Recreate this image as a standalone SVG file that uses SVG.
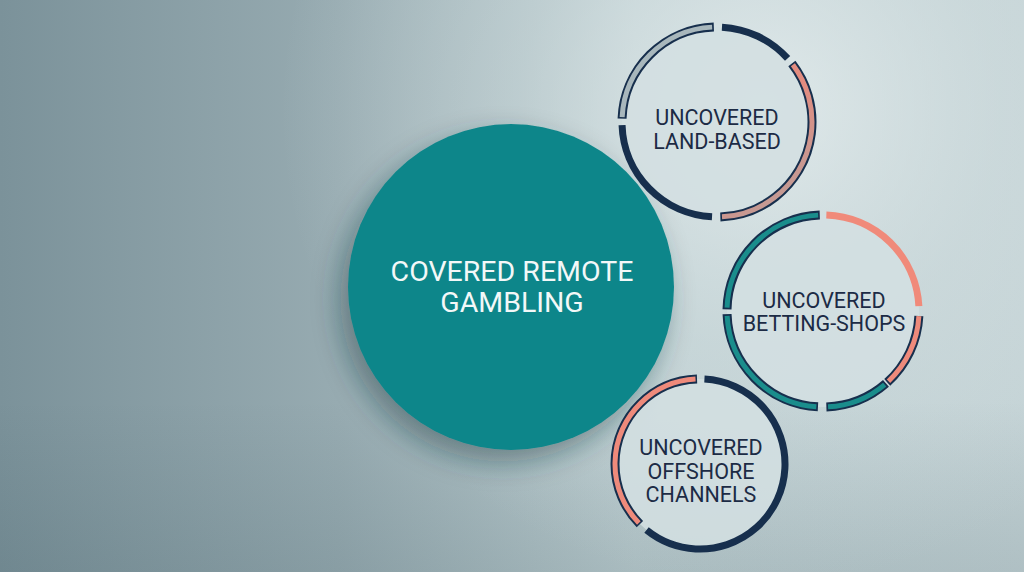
<svg xmlns="http://www.w3.org/2000/svg" width="1024" height="572" viewBox="0 0 1024 572">
  <defs>
    <linearGradient id="bgH" x1="0" y1="0" x2="1" y2="0">
      <stop offset="0" stop-color="#7b929a"/>
      <stop offset="0.33" stop-color="#97abb1"/>
      <stop offset="0.62" stop-color="#bccdd0"/>
      <stop offset="1" stop-color="#c3d2d5"/>
    </linearGradient>
    <radialGradient id="glow" cx="760" cy="110" r="480" gradientUnits="userSpaceOnUse">
      <stop offset="0" stop-color="#e6eeef" stop-opacity="0.85"/>
      <stop offset="0.5" stop-color="#dae5e6" stop-opacity="0.35"/>
      <stop offset="1" stop-color="#dae5e6" stop-opacity="0"/>
    </radialGradient>
    <linearGradient id="bgV" x1="0" y1="0" x2="0" y2="1">
      <stop offset="0" stop-color="#1e3a44" stop-opacity="0"/>
      <stop offset="0.7" stop-color="#1e3a44" stop-opacity="0"/>
      <stop offset="1" stop-color="#1e3a44" stop-opacity="0.12"/>
    </linearGradient>
    <linearGradient id="salmonFade" x1="0" y1="30" x2="0" y2="222" gradientUnits="userSpaceOnUse">
      <stop offset="0" stop-color="#ea8a7c"/>
      <stop offset="0.6" stop-color="#e28c80"/>
      <stop offset="1" stop-color="#c39a94"/>
    </linearGradient>
    <filter id="shadow" x="-30%" y="-30%" width="160%" height="160%">
      <feDropShadow dx="-8" dy="12" stdDeviation="14" flood-color="#1d3740" flood-opacity="0.45"/>
    </filter>
  </defs>
  <style>
    .ring { fill: #d3dfe1; fill-opacity: 0.88; stroke: none; }
    .nv { fill: none; stroke: #172f4d; stroke-width: 7; }
    .ol { fill: none; stroke: #172f4d; stroke-width: 9; }
    .gray { fill: none; stroke: #a8b7bc; stroke-width: 5; }
    .sal { fill: none; stroke: #ee8a7b; stroke-width: 5; }
    .salp { fill: none; stroke: #f08a7a; stroke-width: 7; }
    .teal { fill: none; stroke: #1a8d8c; stroke-width: 5; }
    .lbl { font-family: Roboto, "Liberation Sans", sans-serif; font-size: 21.5px; fill: #1c2b45; text-anchor: middle; }
    .main { font-family: Roboto, "Liberation Sans", sans-serif; font-size: 28.5px; fill: #f3f8f8; text-anchor: middle; }
  </style>

  <rect x="0" y="0" width="1024" height="572" fill="url(#bgH)"/>
  <rect x="0" y="0" width="1024" height="572" fill="url(#glow)"/>
  <rect x="0" y="0" width="1024" height="572" fill="url(#bgV)"/>

  <g id="connectors"></g>

  <g id="node-covered">
    <circle cx="511" cy="287" r="163" fill="#0f868a" filter="url(#shadow)"/>
    <text class="main" x="512" y="281">COVERED REMOTE</text>
    <text class="main" x="512" y="312">GAMBLING</text>
  </g>

  <g id="node-landbased">
    <circle class="ring" cx="717" cy="122" r="95"/>
    <circle class="ol" cx="717" cy="122" r="95" pathLength="360" stroke-dasharray="86 400" transform="rotate(182 717 122)"/>
    <circle class="gray" cx="717" cy="122" r="95" pathLength="360" stroke-dasharray="84 400" transform="rotate(183 717 122)"/>
    <circle class="nv" cx="717" cy="122" r="95" pathLength="360" stroke-dasharray="45 400" transform="rotate(273 717 122)"/>
    <circle class="ol" cx="717" cy="122" r="95" pathLength="360" stroke-dasharray="126 400" transform="rotate(322 717 122)"/>
    <circle cx="717" cy="122" r="95" pathLength="360" fill="none" stroke="url(#salmonFade)" stroke-width="5" stroke-dasharray="124 400" transform="rotate(323 717 122)"/>
    <circle class="nv" cx="717" cy="122" r="95" pathLength="360" stroke-dasharray="85 400" transform="rotate(93 717 122)"/>
    <text class="lbl" x="717" y="125">UNCOVERED</text>
    <text class="lbl" x="717" y="148.5">LAND-BASED</text>
  </g>

  <g id="node-bettingshops">
    <circle class="ring" cx="823" cy="311" r="96"/>
    <circle class="ol" cx="823" cy="311" r="96" pathLength="360" stroke-dasharray="87 400" transform="rotate(181 823 311)"/>
    <circle class="teal" cx="823" cy="311" r="96" pathLength="360" stroke-dasharray="85 400" transform="rotate(182 823 311)"/>
    <circle class="salp" cx="823" cy="311" r="96" pathLength="360" stroke-dasharray="85 400" transform="rotate(272 823 311)"/>
    <circle class="ol" cx="823" cy="311" r="96" pathLength="360" stroke-dasharray="45 400" transform="rotate(3 823 311)"/>
    <circle class="sal" cx="823" cy="311" r="96" pathLength="360" stroke-dasharray="44 400" transform="rotate(3 823 311)"/>
    <circle class="ol" cx="823" cy="311" r="96" pathLength="360" stroke-dasharray="39 400" transform="rotate(49 823 311)"/>
    <circle class="teal" cx="823" cy="311" r="96" pathLength="360" stroke-dasharray="37 400" transform="rotate(50 823 311)"/>
    <circle class="ol" cx="823" cy="311" r="96" pathLength="360" stroke-dasharray="85 400" transform="rotate(93 823 311)"/>
    <circle class="teal" cx="823" cy="311" r="96" pathLength="360" stroke-dasharray="83 400" transform="rotate(94 823 311)"/>
    <text class="lbl" x="824" y="308">UNCOVERED</text>
    <text class="lbl" x="824" y="331">BETTING-SHOPS</text>
  </g>

  <g id="node-offshore">
    <circle class="ring" cx="700" cy="464" r="85"/>
    <circle class="ol" cx="700" cy="464" r="85" pathLength="360" stroke-dasharray="133 400" transform="rotate(135 700 464)"/>
    <circle class="sal" cx="700" cy="464" r="85" pathLength="360" stroke-dasharray="131 400" transform="rotate(136 700 464)"/>
    <circle class="nv" cx="700" cy="464" r="85" pathLength="360" stroke-dasharray="216 400" transform="rotate(273 700 464)"/>
    <text class="lbl" x="701" y="455">UNCOVERED</text>
    <text class="lbl" x="701" y="479">OFFSHORE</text>
    <text class="lbl" x="701" y="502">CHANNELS</text>
  </g>
</svg>
